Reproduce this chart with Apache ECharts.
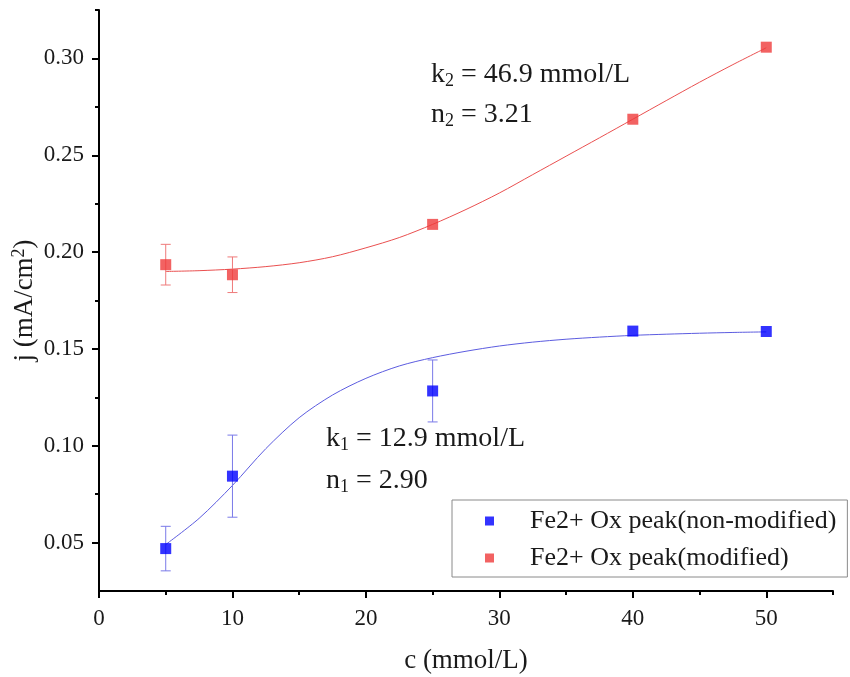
<!DOCTYPE html>
<html>
<head>
<meta charset="utf-8">
<script src="https://cdn.jsdelivr.net/npm/echarts@6/dist/echarts.min.js"></script>
<style>
  html, body { margin: 0; padding: 0; background: #fff; }
  #chart { width: 850px; height: 677px; }
</style>
</head>
<body>
<div id="chart"></div>
<script>
// measured points (c in mmol/L, j in mA/cm2)
const concentrations = [5, 10, 25, 40, 50];
const plainValues = [0.0469, 0.0843, 0.1283, 0.1592, 0.1590];
const plainErrors = [0.0115, 0.0212, 0.0160, 0, 0];
const modifiedValues = [0.1935, 0.1883, 0.2143, 0.2686, 0.3058];
const modifiedErrors = [0.0105, 0.0092, 0, 0, 0];

// fitted curves, every 2.5 mmol/L
const fitX = [5, 7.5, 10, 12.5, 15, 17.5, 20, 22.5, 25, 27.5, 30, 32.5, 35, 37.5, 40, 42.5, 45, 47.5, 50];
const plainFit = [0.0490, 0.0625, 0.0795, 0.0985, 0.1145, 0.1262, 0.1348, 0.1412, 0.1455, 0.1488, 0.1515, 0.1535, 0.1550, 0.1561, 0.1570, 0.1576, 0.1581, 0.1585, 0.1588];
const modifiedFit = [0.1900, 0.1904, 0.1912, 0.1925, 0.1945, 0.1976, 0.2022, 0.2075, 0.2143, 0.2220, 0.2305, 0.2400, 0.2495, 0.2590, 0.2686, 0.2782, 0.2877, 0.2968, 0.3055];

const xMajor = [0, 10, 20, 30, 40, 50];
const xMinor = [5, 15, 25, 35, 45, 55];
const yMajor = [0.05, 0.10, 0.15, 0.20, 0.25, 0.30];
const yMinor = [0.075, 0.125, 0.175, 0.225, 0.275, 0.325];

const seriesNames = ["Fe2+ Ox peak(non-modified)", "Fe2+ Ox peak(modified)"];
const annotations = [
    { sym: "k", idx: "1", rest: " = 12.9 mmol/L" },
    { sym: "n", idx: "1", rest: " = 2.90" },
    { sym: "k", idx: "2", rest: " = 46.9 mmol/L" },
    { sym: "n", idx: "2", rest: " = 3.21" }
];

const FONT = "'Liberation Serif', 'Times New Roman', serif";
const TXT = "#1a1a1a";

const chart = echarts.init(document.getElementById("chart"));

function errorBars(values, errors, color) {
    const data = [];
    concentrations.forEach((c, i) => {
        if (errors[i] > 0) data.push([c, values[i] - errors[i], values[i] + errors[i]]);
    });
    return {
        type: "custom",
        silent: true,
        z: 3,
        encode: { x: 0, y: [1, 2] },
        data: data,
        renderItem: function (params, api) {
            const lo = api.coord([api.value(0), api.value(1)]);
            const hi = api.coord([api.value(0), api.value(2)]);
            const w = 5;
            const st = { stroke: color, lineWidth: 1 };
            return {
                type: "group",
                children: [
                    { type: "line", shape: { x1: lo[0], y1: lo[1], x2: hi[0], y2: hi[1] }, style: st },
                    { type: "line", shape: { x1: lo[0] - w, y1: lo[1], x2: lo[0] + w, y2: lo[1] }, style: st },
                    { type: "line", shape: { x1: hi[0] - w, y1: hi[1], x2: hi[0] + w, y2: hi[1] }, style: st }
                ]
            };
        }
    };
}

function annotationText(a, x, y) {
    return {
        type: "text",
        left: x,
        top: y,
        style: {
            text: "{m|" + a.sym + "}{s|" + a.idx + "}{m|" + a.rest + "}",
            rich: {
                m: { fontFamily: FONT, fontSize: 28, fill: TXT, lineHeight: 30 },
                s: { fontFamily: FONT, fontSize: 18, fill: TXT, lineHeight: 30, padding: [12, 0, 0, 0] }
            }
        }
    };
}

const baseX = {
    type: "value", min: 0, max: 55, gridIndex: 0, position: "bottom",
    splitLine: { show: false }
};
const baseY = {
    type: "value", min: 0.025, max: 0.325, gridIndex: 0, position: "left",
    splitLine: { show: false }
};

const option = {
    backgroundColor: "#fff",
    animation: false,
    grid: { left: 99, right: 17, top: 10, bottom: 86, containLabel: false, outerBoundsMode: "none" },
    xAxis: [
        Object.assign({}, baseX, {
            name: "c (mmol/L)",
            nameLocation: "middle",
            nameGap: 56,
            nameMoveOverlap: false,
            nameTextStyle: { fontFamily: FONT, fontSize: 27, color: TXT },
            axisLine: { show: true, lineStyle: { color: "#000", width: 2 } },
            axisTick: { show: true, length: 7, lineStyle: { color: "#000", width: 2 }, customValues: xMajor },
            axisLabel: { show: true, margin: 16, fontFamily: FONT, fontSize: 23, color: TXT, customValues: xMajor }
        }),
        Object.assign({}, baseX, {
            axisLine: { show: false },
            axisTick: { show: true, length: 4, lineStyle: { color: "#000", width: 2 }, customValues: xMinor },
            axisLabel: { show: false }
        })
    ],
    yAxis: [
        Object.assign({}, baseY, {
            name: "j (mA/cm{sup|2})",
            nameLocation: "middle",
            nameGap: 59,
            nameRotate: 90,
            nameMoveOverlap: false,
            nameTextStyle: {
                fontFamily: FONT, fontSize: 27, color: TXT,
                rich: { sup: { fontFamily: FONT, fontSize: 18, color: TXT, padding: [0, 0, 12, 0] } }
            },
            axisLine: { show: true, lineStyle: { color: "#000", width: 2 } },
            axisTick: { show: true, length: 7, lineStyle: { color: "#000", width: 2 }, customValues: yMajor },
            axisLabel: {
                show: true, margin: 15, fontFamily: FONT, fontSize: 23, color: TXT,
                customValues: yMajor,
                formatter: v => v.toFixed(2)
            }
        }),
        Object.assign({}, baseY, {
            axisLine: { show: false },
            axisTick: { show: true, length: 4, lineStyle: { color: "#000", width: 2 }, customValues: yMinor },
            axisLabel: { show: false }
        })
    ],
    legend: {
        data: seriesNames,
        orient: "vertical",
        left: 452,
        top: 500,
        padding: [8, 11, 6, 33],
        itemGap: 11,
        itemWidth: 9,
        itemHeight: 9,
        borderColor: "#8a8a8a",
        borderWidth: 1,
        textStyle: { fontFamily: FONT, fontSize: 26, color: TXT, lineHeight: 26, padding: [0, 0, 0, 31] }
    },
    graphic: [
        annotationText(annotations[0], 326, 424),
        annotationText(annotations[1], 326, 466),
        annotationText(annotations[2], 431, 60),
        annotationText(annotations[3], 431, 100)
    ],
    series: [
        {
            type: "line",
            data: fitX.map((x, i) => [x, plainFit[i]]),
            smooth: 0.3,
            showSymbol: false,
            silent: true,
            z: 2,
            lineStyle: { color: "#5c5ce0", width: 1 }
        },
        {
            type: "line",
            data: fitX.map((x, i) => [x, modifiedFit[i]]),
            smooth: 0.3,
            showSymbol: false,
            silent: true,
            z: 2,
            lineStyle: { color: "#ea5050", width: 1 }
        },
        errorBars(plainValues, plainErrors, "#7a7ae8"),
        errorBars(modifiedValues, modifiedErrors, "#ef7a7a"),
        {
            name: seriesNames[0],
            type: "scatter",
            symbol: "rect",
            symbolSize: 11,
            z: 4,
            itemStyle: { color: "#0000ff" },
            data: concentrations.map((c, i) => [c, plainValues[i]])
        },
        {
            name: seriesNames[1],
            type: "scatter",
            symbol: "rect",
            symbolSize: 11,
            z: 4,
            itemStyle: { color: "#ef3b3b" },
            data: concentrations.map((c, i) => [c, modifiedValues[i]])
        }
    ]
};

chart.setOption(option);
</script>
</body>
</html>
